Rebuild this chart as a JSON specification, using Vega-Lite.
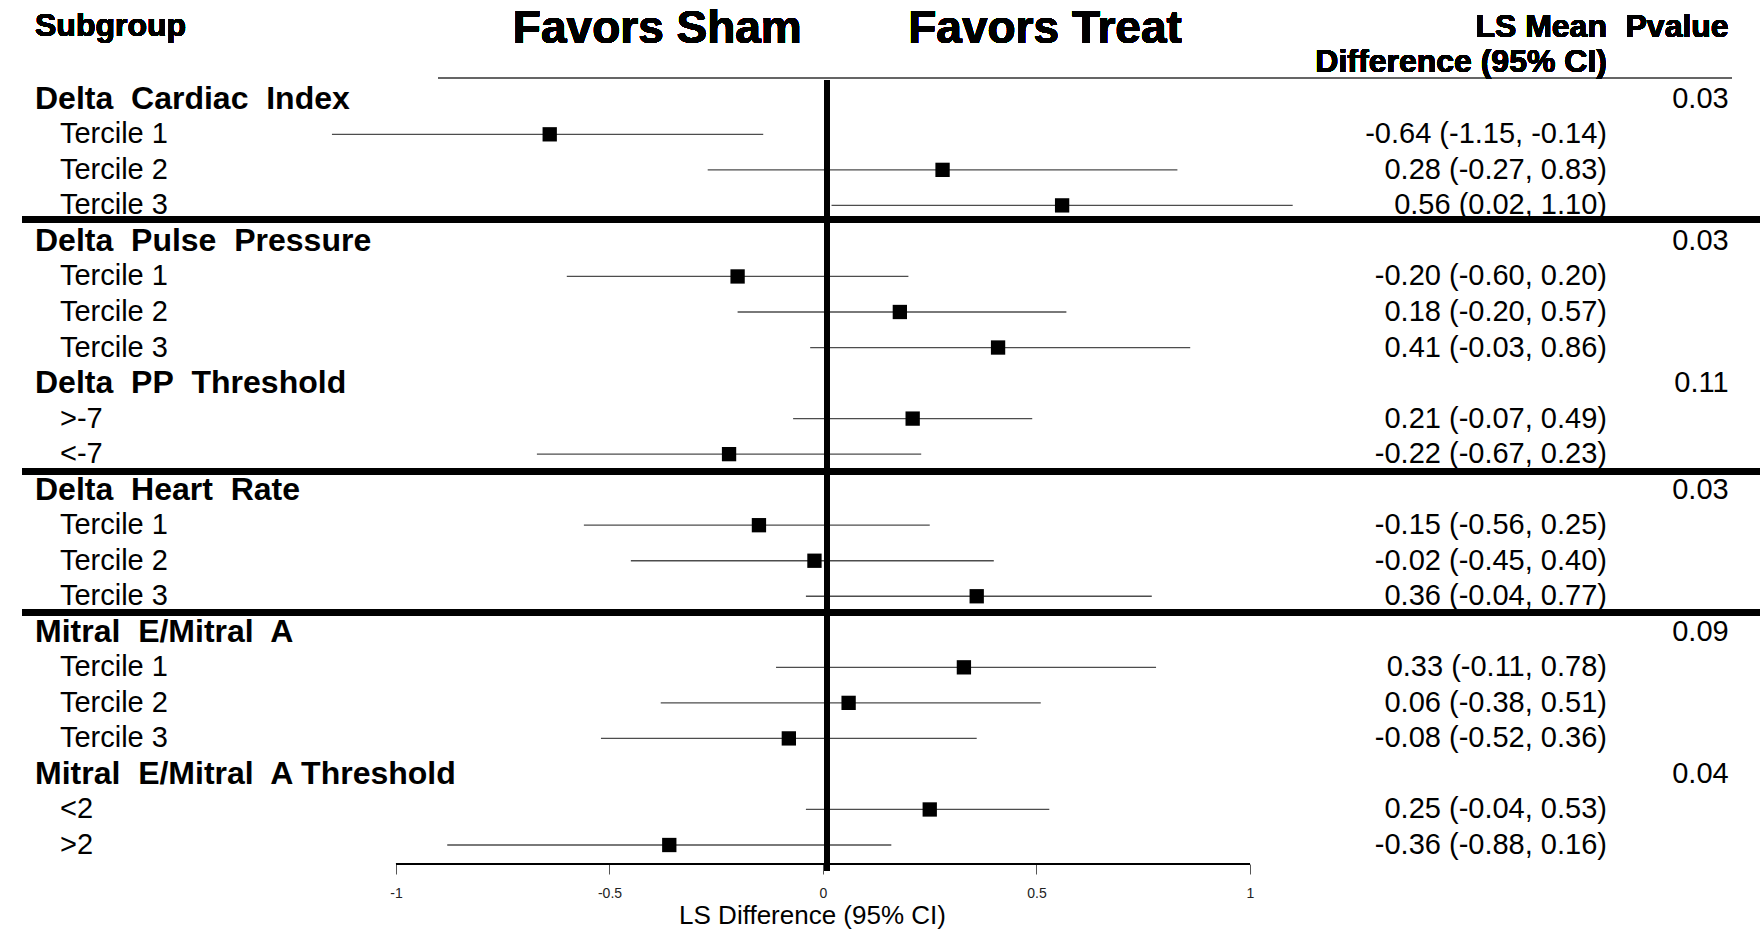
{
  "$schema": "https://vega.github.io/schema/vega-lite/v6.json",
  "width": 1760,
  "height": 931,
  "padding": 0,
  "autosize": {"type": "none"},
  "background": "white",
  "config": {
    "view": {"stroke": null},
    "font": "Liberation Sans, Arial, sans-serif",
    "axis": {"grid": false}
  },
  "data": {
    "values": [
      {"row": 0, "label": "Delta\u00a0 Cardiac\u00a0 Index", "kind": "group", "p": "0.03"},
      {"row": 1, "label": "Tercile 1", "kind": "sub", "est": -0.64, "lo": -1.15, "hi": -0.14, "ci": "-0.64 (-1.15, -0.14)"},
      {"row": 2, "label": "Tercile 2", "kind": "sub", "est": 0.28, "lo": -0.27, "hi": 0.83, "ci": "0.28 (-0.27, 0.83)"},
      {"row": 3, "label": "Tercile 3", "kind": "sub", "est": 0.56, "lo": 0.02, "hi": 1.10, "ci": "0.56 (0.02, 1.10)"},
      {"row": 4, "label": "Delta\u00a0 Pulse\u00a0 Pressure", "kind": "group", "p": "0.03"},
      {"row": 5, "label": "Tercile 1", "kind": "sub", "est": -0.20, "lo": -0.60, "hi": 0.20, "ci": "-0.20 (-0.60, 0.20)"},
      {"row": 6, "label": "Tercile 2", "kind": "sub", "est": 0.18, "lo": -0.20, "hi": 0.57, "ci": "0.18 (-0.20, 0.57)"},
      {"row": 7, "label": "Tercile 3", "kind": "sub", "est": 0.41, "lo": -0.03, "hi": 0.86, "ci": "0.41 (-0.03, 0.86)"},
      {"row": 8, "label": "Delta\u00a0 PP\u00a0 Threshold", "kind": "group", "p": "0.11"},
      {"row": 9, "label": ">-7", "kind": "sub", "est": 0.21, "lo": -0.07, "hi": 0.49, "ci": "0.21 (-0.07, 0.49)"},
      {"row": 10, "label": "<-7", "kind": "sub", "est": -0.22, "lo": -0.67, "hi": 0.23, "ci": "-0.22 (-0.67, 0.23)"},
      {"row": 11, "label": "Delta\u00a0 Heart\u00a0 Rate", "kind": "group", "p": "0.03"},
      {"row": 12, "label": "Tercile 1", "kind": "sub", "est": -0.15, "lo": -0.56, "hi": 0.25, "ci": "-0.15 (-0.56, 0.25)"},
      {"row": 13, "label": "Tercile 2", "kind": "sub", "est": -0.02, "lo": -0.45, "hi": 0.40, "ci": "-0.02 (-0.45, 0.40)"},
      {"row": 14, "label": "Tercile 3", "kind": "sub", "est": 0.36, "lo": -0.04, "hi": 0.77, "ci": "0.36 (-0.04, 0.77)"},
      {"row": 15, "label": "Mitral\u00a0 E/Mitral\u00a0 A", "kind": "group", "p": "0.09"},
      {"row": 16, "label": "Tercile 1", "kind": "sub", "est": 0.33, "lo": -0.11, "hi": 0.78, "ci": "0.33 (-0.11, 0.78)"},
      {"row": 17, "label": "Tercile 2", "kind": "sub", "est": 0.06, "lo": -0.38, "hi": 0.51, "ci": "0.06 (-0.38, 0.51)"},
      {"row": 18, "label": "Tercile 3", "kind": "sub", "est": -0.08, "lo": -0.52, "hi": 0.36, "ci": "-0.08 (-0.52, 0.36)"},
      {"row": 19, "label": "Mitral\u00a0 E/Mitral\u00a0 A Threshold", "kind": "group", "p": "0.04"},
      {"row": 20, "label": "<2", "kind": "sub", "est": 0.25, "lo": -0.04, "hi": 0.53, "ci": "0.25 (-0.04, 0.53)"},
      {"row": 21, "label": ">2", "kind": "sub", "est": -0.36, "lo": -0.88, "hi": 0.16, "ci": "-0.36 (-0.88, 0.16)"}
    ]
  },
  "layer": [
    {
      "transform": [{"filter": "datum.kind == 'sub'"}],
      "mark": {"type": "rule", "color": "#4d4d4d", "strokeWidth": 1.3},
      "encoding": {
        "x": {
          "field": "lo", "type": "quantitative",
          "scale": {"domain": [-1.9274, 2.1944], "nice": false, "zero": false},
          "axis": {
            "values": [-1, -0.5, 0, 0.5, 1],
            "domain": false,
            "ticks": true,
            "tickSize": 10,
            "tickColor": "#555555",
            "tickWidth": 1,
            "labelExpr": "'' + datum.value",
            "labelFontSize": 14,
            "labelColor": "#222222",
            "labelPadding": 12,
            "offset": -67,
            "title": "LS Difference (95% CI)",
            "titleFontSize": 26,
            "titleFontWeight": "normal",
            "titleColor": "black",
            "titleX": 812,
            "titleY": 51,
            "titleAlign": "center",
            "titleBaseline": "middle"
          }
        },
        "x2": {"field": "hi"},
        "y": {"field": "row", "type": "quantitative", "scale": {"domain": [-2.78, 23.42], "reverse": true, "nice": false, "zero": false}, "axis": null}
      }
    },
    {
      "mark": {"type": "rule", "color": "#666666", "strokeWidth": 1.5},
      "encoding": {
        "x": {"datum": -0.9016, "type": "quantitative", "scale": {"domain": [-1.9274, 2.1944], "nice": false, "zero": false}},
        "x2": {"datum": 2.1288},
        "y": {"datum": -0.585, "type": "quantitative", "scale": {"domain": [-2.78, 23.42], "reverse": true, "nice": false, "zero": false}, "axis": null}
      }
    },
    {
      "mark": {"type": "rule", "color": "black", "strokeWidth": 6},
      "encoding": {
        "x": {"datum": -1.875, "type": "quantitative", "scale": {"domain": [-1.9274, 2.1944], "nice": false, "zero": false}},
        "x2": {"datum": 2.1944},
        "y": {"datum": 3.39, "type": "quantitative", "scale": {"domain": [-2.78, 23.42], "reverse": true, "nice": false, "zero": false}, "axis": null}
      }
    },
    {
      "mark": {"type": "rule", "color": "black", "strokeWidth": 6},
      "encoding": {
        "x": {"datum": -1.875, "type": "quantitative", "scale": {"domain": [-1.9274, 2.1944], "nice": false, "zero": false}},
        "x2": {"datum": 2.1944},
        "y": {"datum": 10.48, "type": "quantitative", "scale": {"domain": [-2.78, 23.42], "reverse": true, "nice": false, "zero": false}, "axis": null}
      }
    },
    {
      "mark": {"type": "rule", "color": "black", "strokeWidth": 6},
      "encoding": {
        "x": {"datum": -1.875, "type": "quantitative", "scale": {"domain": [-1.9274, 2.1944], "nice": false, "zero": false}},
        "x2": {"datum": 2.1944},
        "y": {"datum": 14.46, "type": "quantitative", "scale": {"domain": [-2.78, 23.42], "reverse": true, "nice": false, "zero": false}, "axis": null}
      }
    },
    {
      "mark": {"type": "rule", "color": "black", "strokeWidth": 1.5},
      "encoding": {
        "x": {"datum": -1, "type": "quantitative", "scale": {"domain": [-1.9274, 2.1944], "nice": false, "zero": false}},
        "x2": {"datum": 1},
        "y": {"datum": 21.53, "type": "quantitative", "scale": {"domain": [-2.78, 23.42], "reverse": true, "nice": false, "zero": false}, "axis": null}
      }
    },
    {
      "mark": {"type": "rule", "color": "black", "strokeWidth": 5.5},
      "encoding": {
        "x": {"datum": 0.009, "type": "quantitative", "scale": {"domain": [-1.9274, 2.1944], "nice": false, "zero": false}},
        "y": {"datum": -0.53, "type": "quantitative", "scale": {"domain": [-2.78, 23.42], "reverse": true, "nice": false, "zero": false}, "axis": null},
        "y2": {"datum": 21.73}
      }
    },
    {
      "transform": [{"filter": "datum.kind == 'sub'"}],
      "mark": {"type": "point", "shape": "square", "filled": true, "color": "black", "opacity": 1, "size": 205},
      "encoding": {
        "x": {"field": "est", "type": "quantitative", "scale": {"domain": [-1.9274, 2.1944], "nice": false, "zero": false}},
        "y": {"field": "row", "type": "quantitative", "scale": {"domain": [-2.78, 23.42], "reverse": true, "nice": false, "zero": false}, "axis": null}
      }
    },
    {
      "transform": [{"filter": "datum.kind == 'group'"}],
      "mark": {"type": "text", "align": "left", "baseline": "middle", "fontSize": 32, "fontWeight": "bold", "color": "black"},
      "encoding": {
        "x": {"datum": -1.8454, "type": "quantitative", "scale": {"domain": [-1.9274, 2.1944], "nice": false, "zero": false}},
        "y": {"field": "row", "type": "quantitative", "scale": {"domain": [-2.78, 23.42], "reverse": true, "nice": false, "zero": false}, "axis": null},
        "text": {"field": "label"}
      }
    },
    {
      "transform": [{"filter": "datum.kind == 'group'"}],
      "mark": {"type": "text", "align": "right", "baseline": "middle", "fontSize": 29, "color": "black"},
      "encoding": {
        "x": {"datum": 2.121, "type": "quantitative", "scale": {"domain": [-1.9274, 2.1944], "nice": false, "zero": false}},
        "y": {"field": "row", "type": "quantitative", "scale": {"domain": [-2.78, 23.42], "reverse": true, "nice": false, "zero": false}, "axis": null},
        "text": {"field": "p"}
      }
    },
    {
      "transform": [{"filter": "datum.kind == 'sub'"}],
      "mark": {"type": "text", "align": "left", "baseline": "middle", "fontSize": 29, "color": "black"},
      "encoding": {
        "x": {"datum": -1.787, "type": "quantitative", "scale": {"domain": [-1.9274, 2.1944], "nice": false, "zero": false}},
        "y": {"field": "row", "type": "quantitative", "scale": {"domain": [-2.78, 23.42], "reverse": true, "nice": false, "zero": false}, "axis": null},
        "text": {"field": "label"}
      }
    },
    {
      "transform": [{"filter": "datum.kind == 'sub'"}],
      "mark": {"type": "text", "align": "right", "baseline": "middle", "fontSize": 29, "color": "black"},
      "encoding": {
        "x": {"datum": 1.836, "type": "quantitative", "scale": {"domain": [-1.9274, 2.1944], "nice": false, "zero": false}},
        "y": {"field": "row", "type": "quantitative", "scale": {"domain": [-2.78, 23.42], "reverse": true, "nice": false, "zero": false}, "axis": null},
        "text": {"field": "ci"}
      }
    },
    {
      "mark": {"type": "text", "align": "left", "baseline": "middle", "fontSize": 32, "fontWeight": "bold", "color": "black", "text": "Subgroup"},
      "encoding": {
        "x": {"datum": -1.8454, "type": "quantitative", "scale": {"domain": [-1.9274, 2.1944], "nice": false, "zero": false}},
        "y": {"datum": -2.05, "type": "quantitative", "scale": {"domain": [-2.78, 23.42], "reverse": true, "nice": false, "zero": false}, "axis": null}
      }
    },
    {
      "mark": {"type": "text", "align": "center", "baseline": "middle", "fontSize": 46, "fontWeight": "bold", "color": "black", "text": "Favors Sham"},
      "encoding": {
        "x": {"datum": -0.388, "type": "quantitative", "scale": {"domain": [-1.9274, 2.1944], "nice": false, "zero": false}},
        "y": {"datum": -1.95, "type": "quantitative", "scale": {"domain": [-2.78, 23.42], "reverse": true, "nice": false, "zero": false}, "axis": null}
      }
    },
    {
      "mark": {"type": "text", "align": "center", "baseline": "middle", "fontSize": 46, "fontWeight": "bold", "color": "black", "text": "Favors Treat"},
      "encoding": {
        "x": {"datum": 0.52, "type": "quantitative", "scale": {"domain": [-1.9274, 2.1944], "nice": false, "zero": false}},
        "y": {"datum": -1.95, "type": "quantitative", "scale": {"domain": [-2.78, 23.42], "reverse": true, "nice": false, "zero": false}, "axis": null}
      }
    },
    {
      "mark": {"type": "text", "align": "right", "baseline": "middle", "fontSize": 32, "fontWeight": "bold", "color": "black", "text": "LS Mean"},
      "encoding": {
        "x": {"datum": 1.836, "type": "quantitative", "scale": {"domain": [-1.9274, 2.1944], "nice": false, "zero": false}},
        "y": {"datum": -2.03, "type": "quantitative", "scale": {"domain": [-2.78, 23.42], "reverse": true, "nice": false, "zero": false}, "axis": null}
      }
    },
    {
      "mark": {"type": "text", "align": "right", "baseline": "middle", "fontSize": 32, "fontWeight": "bold", "color": "black", "text": "Pvalue"},
      "encoding": {
        "x": {"datum": 2.121, "type": "quantitative", "scale": {"domain": [-1.9274, 2.1944], "nice": false, "zero": false}},
        "y": {"datum": -2.03, "type": "quantitative", "scale": {"domain": [-2.78, 23.42], "reverse": true, "nice": false, "zero": false}, "axis": null}
      }
    },
    {
      "mark": {"type": "text", "align": "right", "baseline": "middle", "fontSize": 32, "fontWeight": "bold", "color": "black", "text": "Difference (95% CI)"},
      "encoding": {
        "x": {"datum": 1.836, "type": "quantitative", "scale": {"domain": [-1.9274, 2.1944], "nice": false, "zero": false}},
        "y": {"datum": -1.03, "type": "quantitative", "scale": {"domain": [-2.78, 23.42], "reverse": true, "nice": false, "zero": false}, "axis": null}
      }
    }
  ]
}
